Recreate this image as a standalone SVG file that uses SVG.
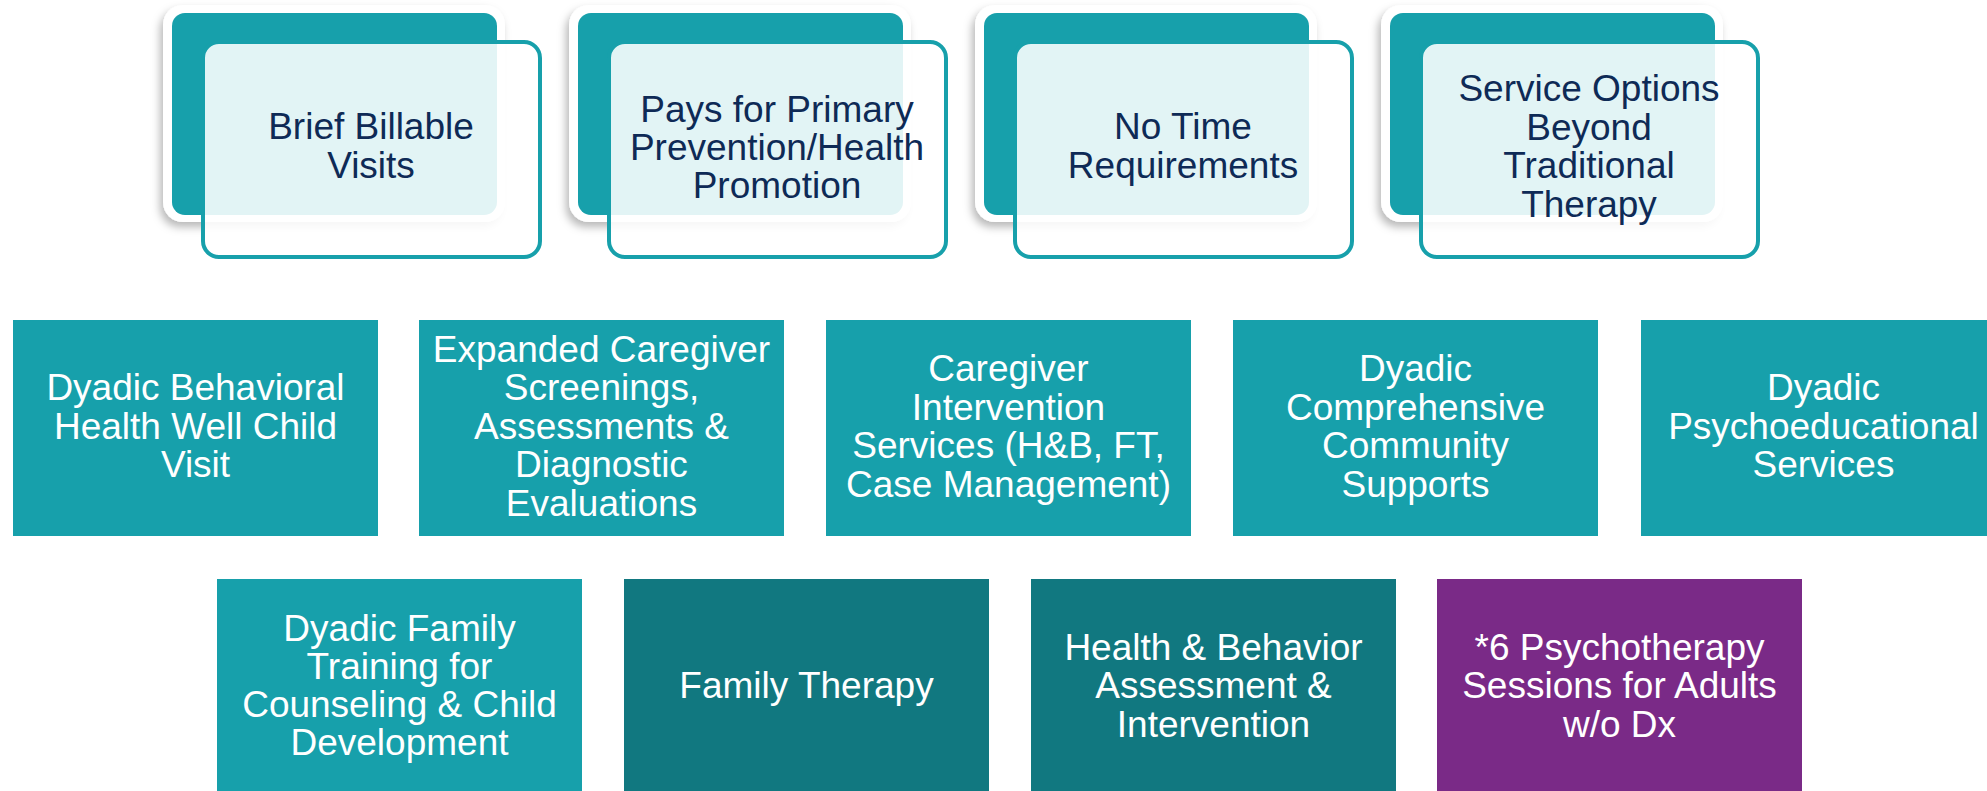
<svg xmlns="http://www.w3.org/2000/svg" width="1987" height="791" viewBox="0 0 1987 791">
  <defs>
    <filter id="shadow" x="-10%" y="-10%" width="120%" height="130%">
      <feDropShadow dx="-3" dy="5" stdDeviation="4" flood-color="#000" flood-opacity="0.28"/>
    </filter>
    <style>
      .cardback { fill: #ffffff; filter: url(#shadow); }
      .cardteal { fill: #17A0AB; }
      .cardfront { fill: #ffffff; fill-opacity: 0.88; stroke: #17A0AB; stroke-width: 4; }
      .cardtext { font-family: "Liberation Sans", Arial, sans-serif; font-size: 37px; fill: #0E2A56; text-anchor: middle; }
      .box { fill: #17A0AB; }
      .boxdark { fill: #117880; }
      .boxpurple { fill: #7A2A87; }
      .boxtext { font-family: "Liberation Sans", Arial, sans-serif; font-size: 37px; fill: #ffffff; text-anchor: middle; }
    </style>
  </defs>
  <rect width="1987" height="791" fill="#ffffff"/>

  <!-- Top cards -->
  <g id="card1">
    <rect class="cardback" x="163" y="5" width="342" height="217" rx="20"/>
    <rect class="cardteal" x="172" y="13" width="325" height="202" rx="13"/>
    <rect class="cardfront" x="203" y="42" width="337" height="215" rx="16"/>
    <text class="cardtext"><tspan x="371" y="139">Brief Billable</tspan><tspan x="371" y="178">Visits</tspan></text>
  </g>
  <g id="card2">
    <rect class="cardback" x="569" y="5" width="342" height="217" rx="20"/>
    <rect class="cardteal" x="578" y="13" width="325" height="202" rx="13"/>
    <rect class="cardfront" x="609" y="42" width="337" height="215" rx="16"/>
    <text class="cardtext"><tspan x="777" y="122">Pays for Primary</tspan><tspan x="777" y="160">Prevention/Health</tspan><tspan x="777" y="198">Promotion</tspan></text>
  </g>
  <g id="card3">
    <rect class="cardback" x="975" y="5" width="342" height="217" rx="20"/>
    <rect class="cardteal" x="984" y="13" width="325" height="202" rx="13"/>
    <rect class="cardfront" x="1015" y="42" width="337" height="215" rx="16"/>
    <text class="cardtext"><tspan x="1183" y="139">No Time</tspan><tspan x="1183" y="178">Requirements</tspan></text>
  </g>
  <g id="card4">
    <rect class="cardback" x="1381" y="5" width="342" height="217" rx="20"/>
    <rect class="cardteal" x="1390" y="13" width="325" height="202" rx="13"/>
    <rect class="cardfront" x="1421" y="42" width="337" height="215" rx="16"/>
    <text class="cardtext"><tspan x="1589" y="101">Service Options</tspan><tspan x="1589" y="139.5">Beyond</tspan><tspan x="1589" y="178">Traditional</tspan><tspan x="1589" y="216.5">Therapy</tspan></text>
  </g>

  <!-- Row 2 -->
  <g id="box-dyadic-bh-wcv">
    <rect class="box" x="13" y="320" width="365" height="216"/>
    <text class="boxtext"><tspan x="195.5" y="400">Dyadic Behavioral</tspan><tspan x="195.5" y="438.5">Health Well Child</tspan><tspan x="195.5" y="477">Visit</tspan></text>
  </g>
  <g id="box-expanded-caregiver">
    <rect class="box" x="419" y="320" width="365" height="216"/>
    <text class="boxtext"><tspan x="601.5" y="361.5">Expanded Caregiver</tspan><tspan x="601.5" y="400">Screenings,</tspan><tspan x="601.5" y="438.5">Assessments &amp;</tspan><tspan x="601.5" y="477">Diagnostic</tspan><tspan x="601.5" y="515.5">Evaluations</tspan></text>
  </g>
  <g id="box-caregiver-intervention">
    <rect class="box" x="826" y="320" width="365" height="216"/>
    <text class="boxtext"><tspan x="1008.5" y="381">Caregiver</tspan><tspan x="1008.5" y="419.5">Intervention</tspan><tspan x="1008.5" y="458">Services (H&amp;B, FT,</tspan><tspan x="1008.5" y="496.5">Case Management)</tspan></text>
  </g>
  <g id="box-dyadic-community">
    <rect class="box" x="1233" y="320" width="365" height="216"/>
    <text class="boxtext"><tspan x="1415.5" y="381">Dyadic</tspan><tspan x="1415.5" y="419.5">Comprehensive</tspan><tspan x="1415.5" y="458">Community</tspan><tspan x="1415.5" y="496.5">Supports</tspan></text>
  </g>
  <g id="box-dyadic-psychoed">
    <rect class="box" x="1641" y="320" width="365" height="216"/>
    <text class="boxtext"><tspan x="1823.5" y="400">Dyadic</tspan><tspan x="1823.5" y="438.5">Psychoeducational</tspan><tspan x="1823.5" y="477">Services</tspan></text>
  </g>

  <!-- Row 3 -->
  <g id="box-dyadic-family-training">
    <rect class="box" x="217" y="579" width="365" height="216"/>
    <text class="boxtext"><tspan x="399.5" y="641">Dyadic Family</tspan><tspan x="399.5" y="679">Training for</tspan><tspan x="399.5" y="717">Counseling &amp; Child</tspan><tspan x="399.5" y="755">Development</tspan></text>
  </g>
  <g id="box-family-therapy">
    <rect class="boxdark" x="624" y="579" width="365" height="216"/>
    <text class="boxtext"><tspan x="806.5" y="698">Family Therapy</tspan></text>
  </g>
  <g id="box-health-behavior">
    <rect class="boxdark" x="1031" y="579" width="365" height="216"/>
    <text class="boxtext"><tspan x="1213.5" y="660">Health &amp; Behavior</tspan><tspan x="1213.5" y="698">Assessment &amp;</tspan><tspan x="1213.5" y="737">Intervention</tspan></text>
  </g>
  <g id="box-psychotherapy-adults">
    <rect class="boxpurple" x="1437" y="579" width="365" height="216"/>
    <text class="boxtext"><tspan x="1619.5" y="660">*6 Psychotherapy</tspan><tspan x="1619.5" y="698">Sessions for Adults</tspan><tspan x="1619.5" y="737">w/o Dx</tspan></text>
  </g>

  <g id="connectors"></g>
</svg>
